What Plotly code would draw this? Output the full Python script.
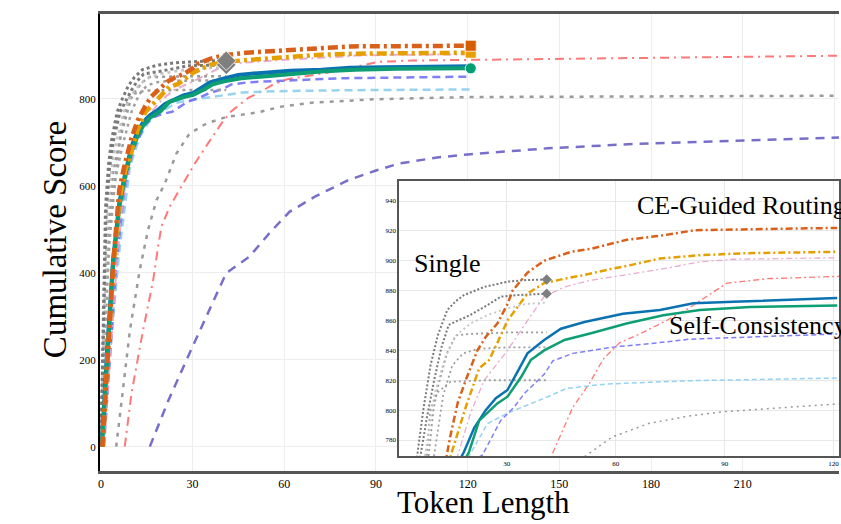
import plotly.graph_objects as go

# ---------------- data ----------------
ce_red_x = [0.5, 2, 4, 6, 7.5, 10, 12, 14.4, 16.5, 18.7, 21.9, 24.2, 27.4, 30.2, 31.6, 35.7, 40.3, 47.7, 53.2, 58.7, 63, 73, 82, 95, 121]
ce_red_y = [0, 200, 420, 590, 640, 710, 750, 782, 805, 820, 840, 849, 858, 871, 880, 892, 900, 906, 908, 911.5, 914, 917, 920.5, 921, 922]

ce_orange_x = [0.6, 2, 4, 6, 8, 10, 12, 14.5, 18.7, 22.4, 25.1, 27.4, 30.2, 35.7, 40.3, 45.9, 51.4, 58.7, 63, 72.2, 83.2, 95, 121]
ce_orange_y = [0, 190, 400, 565, 635, 685, 728, 769, 802, 828, 833.5, 845, 860, 878, 885, 888, 890.5, 894.5, 896.5, 901.5, 903.7, 905, 906]

pink_x = [1, 3, 5, 7, 9, 12, 14, 16.4, 20, 23.8, 30.2, 35.7, 40.3, 45.9, 53.2, 58.7, 74, 83.2, 92.4, 121]
pink_y = [0, 200, 400, 560, 640, 710, 745, 769, 798, 820, 840, 860, 876, 882.5, 887, 889, 895, 899.3, 901, 902]

sc_blue_x = [0.3, 2, 4, 6, 8, 10, 12, 14, 16, 18.2, 21, 24.2, 27, 30.2, 32.9, 35.7, 40.3, 44.9, 51.4, 57.8, 62, 72.2, 81.4, 92.4, 121]
sc_blue_y = [0, 220, 430, 560, 630, 690, 725, 748, 762, 772, 788, 800, 808, 813.5, 825.5, 838, 847, 854.5, 859, 862.5, 864.5, 867, 871.5, 872.5, 875]

sc_green_x = [0.3, 2, 4, 6, 8, 10, 12, 14, 16, 19.6, 22.4, 27.4, 30.2, 33.9, 36.6, 40.3, 45.9, 53.2, 58.7, 63, 73.1, 83.2, 97, 121]
sc_green_y = [0, 210, 420, 550, 625, 680, 715, 740, 756, 772, 793, 804.5, 809, 822, 833.5, 840, 847, 851.5, 855, 858, 863.5, 867, 869, 870]

dash_blue_x = [1, 3, 5, 7.5, 9, 11, 14.4, 17, 20, 23.3, 28.3, 32, 34.8, 40.3, 42.7, 48.2, 60.2, 69.4, 80.4, 121]
dash_blue_y = [0, 210, 420, 580, 640, 690, 740, 757, 765, 770, 793, 802, 811, 824, 833, 838, 842.5, 844.5, 847.5, 851]

light_blue_x = [0.5, 3, 6, 9.5, 12.7, 16, 20, 24.7, 30.2, 41.3, 46.4, 57.4, 80.4, 121]
light_blue_y = [0, 220, 450, 644, 713, 750, 771, 791, 798, 809, 814.5, 817.5, 819.7, 821.5]

red_long_x = [7.8, 10, 13.8, 17.1, 18.7, 19.8, 22.5, 27.4, 30.7, 35, 39.4, 42.6, 48.2, 52.8, 56.5, 61, 66.6, 74, 80, 90.6, 101.7, 122, 174, 241.5]
red_long_y = [0, 123, 268, 383, 460, 506, 552, 613, 651, 697, 743, 771, 802, 818, 834, 845, 851, 860, 868, 885, 888, 889.5, 894, 899]

gray_long_x = [5, 9.5, 12.7, 15.4, 18.2, 20.9, 24.7, 29, 34.5, 41, 51.5, 59, 69, 80, 90, 120, 180, 241.5]
gray_long_y = [0, 268, 406, 498, 567, 605, 674, 720, 743, 758, 769, 782, 791, 796, 799, 804, 806, 807]

purple_long_x = [16, 22, 29, 35, 41, 48.6, 55, 61.7, 70, 81, 90, 97.5, 110, 120, 146, 174, 206, 241.5]
purple_long_y = [0, 105, 215, 305, 399, 437, 490, 540, 575, 613, 635, 651, 665, 672, 686, 696, 703, 711]

single1_x = [0, 0.7, 1.5, 2.5, 3.5, 5.3, 7, 9, 11, 13.6, 16, 18.2, 23.8, 30.2, 34.8, 41]
single1_y = [0, 300, 550, 650, 705, 769, 800, 830, 850, 867, 873, 877, 882.5, 886, 887, 887.5]

single2_x = [0, 0.8, 1.7, 2.8, 4, 6.2, 8, 10, 12, 14, 16.5, 19, 23.8, 28.4, 33, 41]
single2_y = [0, 290, 540, 640, 700, 769, 795, 820, 842, 857, 860, 862.5, 869, 876, 877, 878]

single3_x = [0, 1, 2, 3.5, 5, 7.5, 10, 13, 16, 20, 25, 30, 35, 41]
single3_y = [0, 280, 520, 640, 700, 770, 810, 835, 850, 858, 864, 868, 871, 872]

single4_x = [0, 1, 2.2, 4, 6, 8.5, 9.8, 11, 13.5, 15.9, 20, 30, 41]
single4_y = [0, 270, 500, 630, 700, 770, 800, 815, 838, 850, 851, 852, 852]

single5_x = [0, 1.2, 2.5, 4.5, 7, 10, 12.5, 15, 18, 22, 30, 41]
single5_y = [0, 260, 480, 610, 690, 770, 810, 830, 838, 841, 842, 842]

single6_x = [0, 1.3, 2.8, 4.5, 6.5, 8.9, 11, 14.5, 25, 41]
single6_y = [0, 250, 470, 600, 720, 800, 812, 819, 820, 820]

main_x_ticks = [0, 30, 60, 90, 120, 150, 180, 210, 240]
main_y_ticks = [0, 200, 400, 600, 800]
inset_x_ticks = [30, 60, 90, 120]
inset_y_ticks = [780, 800, 820, 840, 860, 880, 900, 920, 940]

SERIF = "Liberation Serif, Times New Roman, serif"

fig = go.Figure()

# (x, y, colour, main width, inset width, main dash, inset dash, opacity)
series = [
    (purple_long_x, purple_long_y, "#6A60C6", 2.5, 1.5, "9px,7px", "5px,4px", 0.9),
    (gray_long_x, gray_long_y, "#9A9A9A", 2.5, 1.5, "4px,6px", "2px,4px", 1.0),
    (red_long_x, red_long_y, "#FF6B6B", 2, 1.3, "9px,5px,2px,5px", "6px,3px,2px,3px", 0.9),
    (light_blue_x, light_blue_y, "#8CCFEF", 2.5, 1.5, "8px,5px", "5px,3px", 0.9),
    (dash_blue_x, dash_blue_y, "#6A6AF5", 2.5, 1.5, "8px,5px", "5px,3px", 0.85),
    (pink_x, pink_y, "#E8A3CB", 2, 1.3, "8px,4px,2px,4px", "6px,3px,2px,3px", 0.9),
    (single6_x, single6_y, "#A0A0A0", 2.5, 1.8, "3px,4px", "2px,3px", 1.0),
    (single5_x, single5_y, "#A0A0A0", 2.5, 1.8, "3px,4px", "2px,3px", 1.0),
    (single4_x, single4_y, "#9A9A9A", 2.5, 1.8, "3px,4px", "2px,3px", 1.0),
    (single3_x, single3_y, "#C4C4C4", 2.5, 1.8, "3px,4px", "2px,3px", 1.0),
    (single2_x, single2_y, "#7A7A7A", 3, 2, "3px,3px", "2px,2px", 1.0),
    (single1_x, single1_y, "#7A7A7A", 3, 2, "3px,3px", "2px,2px", 1.0),
    (sc_blue_x, sc_blue_y, "#0A72B0", 4, 2.5, "solid", "solid", 1.0),
    (sc_green_x, sc_green_y, "#0E9E74", 4, 2.5, "solid", "solid", 1.0),
    (ce_orange_x, ce_orange_y, "#E69F00", 4.5, 2.5, "10px,4px,3px,4px", "7px,3px,2px,3px", 1.0),
    (ce_red_x, ce_red_y, "#D9601A", 4.5, 2.5, "10px,4px,3px,4px", "7px,3px,2px,3px", 1.0),
]

for (xs, ys, col, w_main, w_in, d_main, d_in, op) in series:
    fig.add_trace(go.Scatter(x=xs, y=ys, mode="lines", opacity=op,
                             line=dict(color=col, width=w_main, dash=d_main),
                             xaxis="x", yaxis="y", showlegend=False, hoverinfo="skip"))

# end markers (main)
for xs, ys, col, sym, size in [
    (single2_x, single2_y, "#7F7F7F", "diamond", 15),
    (single1_x, single1_y, "#7F7F7F", "diamond", 15),
    (ce_orange_x, ce_orange_y, "#E69F00", "square", 11),
    (ce_red_x, ce_red_y, "#D55E00", "square", 11),
    (sc_green_x, sc_green_y, "#009E73", "circle", 11),
]:
    fig.add_trace(go.Scatter(x=[xs[-1]], y=[ys[-1]], mode="markers",
                             marker=dict(color=col, symbol=sym, size=size,
                                         line=dict(color="rgba(255,255,255,0.8)", width=1)),
                             xaxis="x", yaxis="y", showlegend=False, hoverinfo="skip"))

# inset
for (xs, ys, col, w_main, w_in, d_main, d_in, op) in series:
    fig.add_trace(go.Scatter(x=xs, y=ys, mode="lines", opacity=op,
                             line=dict(color=col, width=w_in, dash=d_in),
                             xaxis="x2", yaxis="y2", showlegend=False, hoverinfo="skip"))
for xs, ys in [(single2_x, single2_y), (single1_x, single1_y)]:
    fig.add_trace(go.Scatter(x=[xs[-1]], y=[ys[-1]], mode="markers",
                             marker=dict(color="#7F7F7F", symbol="diamond", size=8),
                             xaxis="x2", yaxis="y2", showlegend=False, hoverinfo="skip"))

IN_X = [0.4, 121.5]
IN_Y = [769.3, 953.4]

fig.update_layout(
    width=841, height=524,
    margin=dict(l=100, r=0, t=14, b=53),
    paper_bgcolor="white", plot_bgcolor="white",
    font=dict(family=SERIF, color="black"),
    showlegend=False,
    xaxis=dict(domain=[0, 1], range=[-0.3, 241.5], tickvals=main_x_ticks,
               showgrid=True, gridcolor="#EDEDED", gridwidth=1, zeroline=False,
               showline=True, linecolor="#555555", linewidth=3, mirror=True,
               ticks="", tickfont=dict(size=12, family=SERIF), anchor="y"),
    yaxis=dict(domain=[0, 1], range=[-56, 995], tickvals=main_y_ticks,
               showgrid=True, gridcolor="#EDEDED", gridwidth=1, zeroline=False,
               showline=True, linecolor="black", linewidth=2,
               ticks="", tickfont=dict(size=11, family=SERIF), anchor="x"),
    xaxis2=dict(domain=[0.405, 1], range=IN_X, tickvals=inset_x_ticks,
                showgrid=True, gridcolor="#E8E8E8", zeroline=False,
                showline=True, linecolor="#555555", linewidth=2, mirror=True,
                ticks="", tickfont=dict(size=7, family=SERIF), anchor="y2"),
    yaxis2=dict(domain=[0.0328, 0.6346], range=IN_Y, tickvals=inset_y_ticks,
                showgrid=True, gridcolor="#E8E8E8", zeroline=False,
                showline=True, linecolor="#555555", linewidth=2, mirror=True,
                ticks="", tickfont=dict(size=7, family=SERIF), anchor="x2"),
    shapes=[dict(type="rect", xref="x2", yref="y2", x0=IN_X[0], x1=IN_X[1],
                 y0=IN_Y[0], y1=IN_Y[1], fillcolor="white",
                 line=dict(width=0), layer="below")],
    annotations=[
        dict(text="Token Length", xref="paper", yref="paper", x=0.5196, y=-0.1116,
             showarrow=False, xanchor="center", yanchor="bottom",
             font=dict(size=31, family=SERIF, color="black")),
        dict(text="Cumulative Score", xref="paper", yref="paper", x=-0.0607, y=0.5055,
             showarrow=False, xanchor="center", yanchor="middle", textangle=-90,
             font=dict(size=33, family=SERIF, color="black")),
        dict(text="Single", xref="paper", yref="paper", x=0.4224, y=0.455,
             showarrow=False, xanchor="left", yanchor="middle",
             font=dict(size=26, family=SERIF, color="black")),
        dict(text="CE-Guided Routing", xref="paper", yref="paper", x=0.7243, y=0.582,
             showarrow=False, xanchor="left", yanchor="middle",
             font=dict(size=26, family=SERIF, color="black")),
        dict(text="Self-Consistency", xref="paper", yref="paper", x=0.767, y=0.318,
             showarrow=False, xanchor="left", yanchor="middle",
             font=dict(size=26, family=SERIF, color="black")),
    ],
)

fig.write_html("out.html", config={"displayModeBar": False},
               post_script="document.body.style.margin='0';document.body.style.overflow='hidden';")
